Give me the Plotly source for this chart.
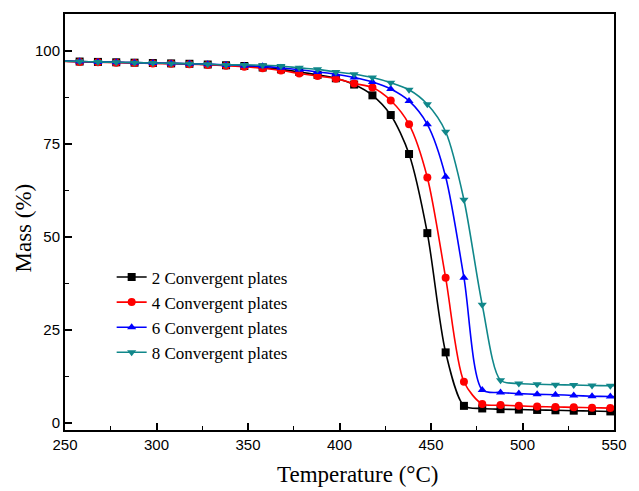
import plotly.graph_objects as go

# Temperature grid (°C): curve ends plus the sampled points that carry markers
temp_start, temp_end = 250, 550
temp_marked = [258, 268, 278, 288, 298, 308, 318, 328, 338, 348,
               358, 368, 378, 388, 398, 408, 418, 428, 438, 448,
               458, 468, 478, 488, 498, 508, 518, 528, 538, 548]

# Residual mass (%) at each marked temperature; first/last entries are the curve ends
mass_2 = [97.3,
          97.2, 97.1, 97.0, 96.9, 96.8, 96.7, 96.6, 96.4, 96.2, 96.0,
          95.6, 95.1, 94.4, 93.6, 92.7, 91.0, 88.1, 82.8, 72.3, 51.0,
          18.9, 4.5, 3.8, 3.6, 3.5, 3.4, 3.3, 3.2, 3.1, 3.0,
          3.0]
mass_4 = [97.2,
          97.1, 97.0, 96.9, 96.8, 96.7, 96.6, 96.5, 96.3, 96.1, 95.8,
          95.4, 94.8, 94.0, 93.3, 92.6, 91.3, 90.2, 86.7, 80.3, 66.0,
          39.0, 11.0, 5.0, 4.7, 4.5, 4.3, 4.2, 4.1, 4.0, 3.9,
          3.9]
mass_6 = [97.3,
          97.2, 97.1, 97.0, 96.9, 96.8, 96.7, 96.6, 96.5, 96.3, 96.1,
          95.9, 95.5, 95.0, 94.4, 93.8, 92.9, 91.7, 89.8, 86.6, 80.3,
          66.2, 39.0, 8.8, 8.1, 7.8, 7.6, 7.5, 7.3, 7.1, 7.0,
          7.0]
mass_8 = [97.3,
          97.2, 97.1, 97.0, 96.9, 96.8, 96.7, 96.6, 96.5, 96.3, 96.3,
          96.2, 96.0, 95.5, 95.1, 94.4, 93.8, 92.9, 91.5, 89.6, 85.7,
          78.3, 60.0, 31.7, 11.4, 10.5, 10.3, 10.2, 10.1, 10.0, 9.9,
          9.9]

series_names = ["2 Convergent plates", "4 Convergent plates",
                "6 Convergent plates", "8 Convergent plates"]
series_mass = [mass_2, mass_4, mass_6, mass_8]
series_colors = ["#000000", "#ff0000", "#0000ff", "#10878a"]
series_symbols = ["square", "circle", "triangle-up", "triangle-down"]

x_tick_vals = [250, 300, 350, 400, 450, 500, 550]
y_tick_vals = [0, 25, 50, 75, 100]

temp_full = [temp_start] + temp_marked + [temp_end]

fig = go.Figure()
for name, mass, color, symbol in zip(series_names, series_mass,
                                     series_colors, series_symbols):
    # smooth curve across the full temperature span
    fig.add_trace(go.Scatter(
        x=temp_full, y=mass, mode="lines",
        line=dict(color=color, width=1.6, shape="spline", smoothing=0.8),
        showlegend=False, hoverinfo="skip"))
    # markers at the sampled temperatures
    fig.add_trace(go.Scatter(
        x=temp_marked, y=mass[1:-1], mode="markers",
        marker=dict(color=color, symbol=symbol, size=8),
        showlegend=False, name=name))
    # legend entry (line + marker)
    fig.add_trace(go.Scatter(
        x=[None], y=[None], mode="lines+markers", name=name,
        line=dict(color=color, width=1.6),
        marker=dict(color=color, symbol=symbol, size=8)))

axis_common = dict(
    showline=True, linecolor="black", linewidth=2, mirror=True,
    ticks="inside", ticklen=7, tickwidth=1.5, tickcolor="black",
    showgrid=False, zeroline=False,
    tickfont=dict(family="Liberation Sans, Arial, sans-serif", size=15, color="black"),
)

serif = "Liberation Serif, Times New Roman, serif"
title_font = dict(family=serif, size=23, color="black")

fig.update_layout(
    width=639, height=491,
    margin=dict(l=65, r=12, t=12, b=61),
    paper_bgcolor="white", plot_bgcolor="white",
    xaxis=dict(
        range=[250, 550], tickvals=x_tick_vals,
        minor=dict(dtick=25, tick0=250, ticks="inside", ticklen=4,
                   tickwidth=1.2, tickcolor="black"),
        **axis_common),
    yaxis=dict(
        range=[-2, 110], tickvals=y_tick_vals,
        minor=dict(dtick=12.5, tick0=0, ticks="inside", ticklen=4,
                   tickwidth=1.2, tickcolor="black"),
        **axis_common),
    legend=dict(
        x=0.085, y=0.41, xanchor="left", yanchor="top",
        bgcolor="rgba(0,0,0,0)", borderwidth=0,
        font=dict(family=serif, size=17, color="black"),
        tracegroupgap=0, itemwidth=30),
    annotations=[
        # axis titles
        dict(text="Temperature (°C)", xref="paper", yref="paper",
             x=0.532, y=-0.108, xanchor="center", yanchor="middle",
             showarrow=False, font=title_font),
        dict(text="Mass (%)", xref="paper", yref="paper",
             x=-0.076, y=0.485, xanchor="center", yanchor="middle",
             textangle=-90, showarrow=False, font=title_font),
    ],
)

fig.write_html("out.html")
